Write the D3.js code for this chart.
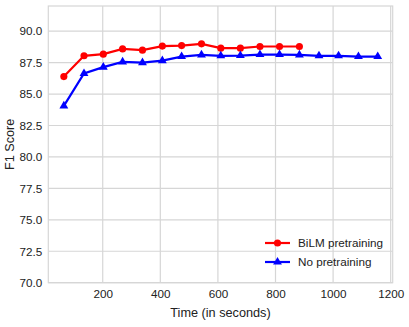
<!DOCTYPE html>
<html lang="en">
<head>
  <meta charset="UTF-8">
  <title>F1 vs Time</title>
  <style>
    body { margin: 0; background: #fff; }
    svg { display: block; font-family: "Liberation Sans", Arial, sans-serif; }
    .grid line { stroke: #d6d6d6; stroke-width: 1.2; }
    .tick text { fill: #222; font-size: 11.7px; }
    .axis path, .axis line { display: none; }
  </style>
</head>
<body>
  <script src="https://d3js.org/d3.v7.min.js"></script>
  <script>
    const W = 409, H = 327;
    const margin = {top: 6, right: 16.3, bottom: 44.3, left: 48.3};
    const iw = W - margin.left - margin.right;
    const ih = H - margin.top - margin.bottom;

    // data
    const bilmTime = [65, 135, 202, 269, 338, 407, 474, 543, 610, 678, 746, 814, 883];
    const bilmF1 = [86.39, 88.04, 88.17, 88.59, 88.49, 88.81, 88.85, 88.99, 88.65, 88.65, 88.78, 88.78, 88.78];
    const noTime = [65, 135, 202, 269, 338, 407, 474, 543, 610, 678, 746, 814, 883, 951, 1019, 1088, 1155];
    const noF1 = [84.06, 86.63, 87.14, 87.56, 87.50, 87.66, 87.98, 88.11, 88.04, 88.06, 88.14, 88.14, 88.11, 88.04, 88.04, 87.98, 87.98];
    const xTicks = [200, 400, 600, 800, 1000, 1200];
    const yTicks = [70, 72.5, 75, 77.5, 80, 82.5, 85, 87.5, 90];

    const x = d3.scaleLinear().domain([11, 1207]).range([0, iw]);
    const y = d3.scaleLinear().domain([70, 92]).range([ih, 0]);

    const svg = d3.select('body').append('svg')
      .attr('width', W).attr('height', H);
    const g = svg.append('g').attr('transform', `translate(${margin.left},${margin.top})`);

    // grid
    const grid = g.append('g').attr('class', 'grid');
    grid.selectAll('.gx').data(xTicks).enter().append('line')
      .attr('x1', d => x(d)).attr('x2', d => x(d)).attr('y1', 0).attr('y2', ih);
    grid.selectAll('.gy').data(yTicks).enter().append('line')
      .attr('y1', d => y(d)).attr('y2', d => y(d)).attr('x1', 0).attr('x2', iw);

    // frame
    g.append('rect').attr('width', iw).attr('height', ih)
      .attr('fill', 'none').attr('stroke', '#d6d6d6').attr('stroke-width', 1.2);

    // axes
    g.append('g').attr('class', 'axis').attr('transform', `translate(0,${ih})`)
      .call(d3.axisBottom(x).tickValues(xTicks).tickFormat(d3.format('d')).tickSize(0).tickPadding(7));
    g.append('g').attr('class', 'axis')
      .call(d3.axisLeft(y).tickValues(yTicks).tickFormat(d3.format('.1f')).tickSize(0).tickPadding(6));

    g.append('text').attr('x', iw / 2).attr('y', ih + 34)
      .attr('text-anchor', 'middle').attr('font-size', 12.7).attr('fill', '#222')
      .text('Time (in seconds)');
    g.append('text').attr('transform', `translate(${-34},${ih / 2}) rotate(-90)`)
      .attr('text-anchor', 'middle').attr('font-size', 12.7).attr('fill', '#222')
      .text('F1 Score');

    const series = [
      {name: 'BiLM pretraining', t: bilmTime, v: bilmF1, color: '#ff0000', marker: d3.symbolCircle},
      {name: 'No pretraining', t: noTime, v: noF1, color: '#0000ff', marker: d3.symbolTriangle}
    ];

    const line = d3.line().x(d => x(d[0])).y(d => y(d[1]));
    series.forEach(s => {
      const pts = s.t.map((t, i) => [t, s.v[i]]);
      g.append('path').datum(pts).attr('d', line)
        .attr('fill', 'none').attr('stroke', s.color).attr('stroke-width', 2.2);
      g.selectAll(null).data(pts).enter().append('path')
        .attr('d', d3.symbol().type(s.marker).size(s.marker === d3.symbolCircle ? 40 : 34))
        .attr('transform', d => `translate(${x(d[0])},${y(d[1])})`)
        .attr('fill', s.color);
    });

    // legend
    const leg = svg.append('g').attr('transform', 'translate(265,243)');
    series.forEach((s, i) => {
      const r = leg.append('g').attr('transform', `translate(0,${i * 19})`);
      r.append('line').attr('x1', 0).attr('x2', 25).attr('stroke', s.color).attr('stroke-width', 2.2);
      r.append('path').attr('d', d3.symbol().type(s.marker).size(s.marker === d3.symbolCircle ? 40 : 34))
        .attr('transform', 'translate(12.5,0)').attr('fill', s.color);
      r.append('text').attr('x', 33).attr('y', 4).attr('font-size', 11.7).attr('fill', '#222').text(s.name);
    });
  </script>
</body>
</html>
